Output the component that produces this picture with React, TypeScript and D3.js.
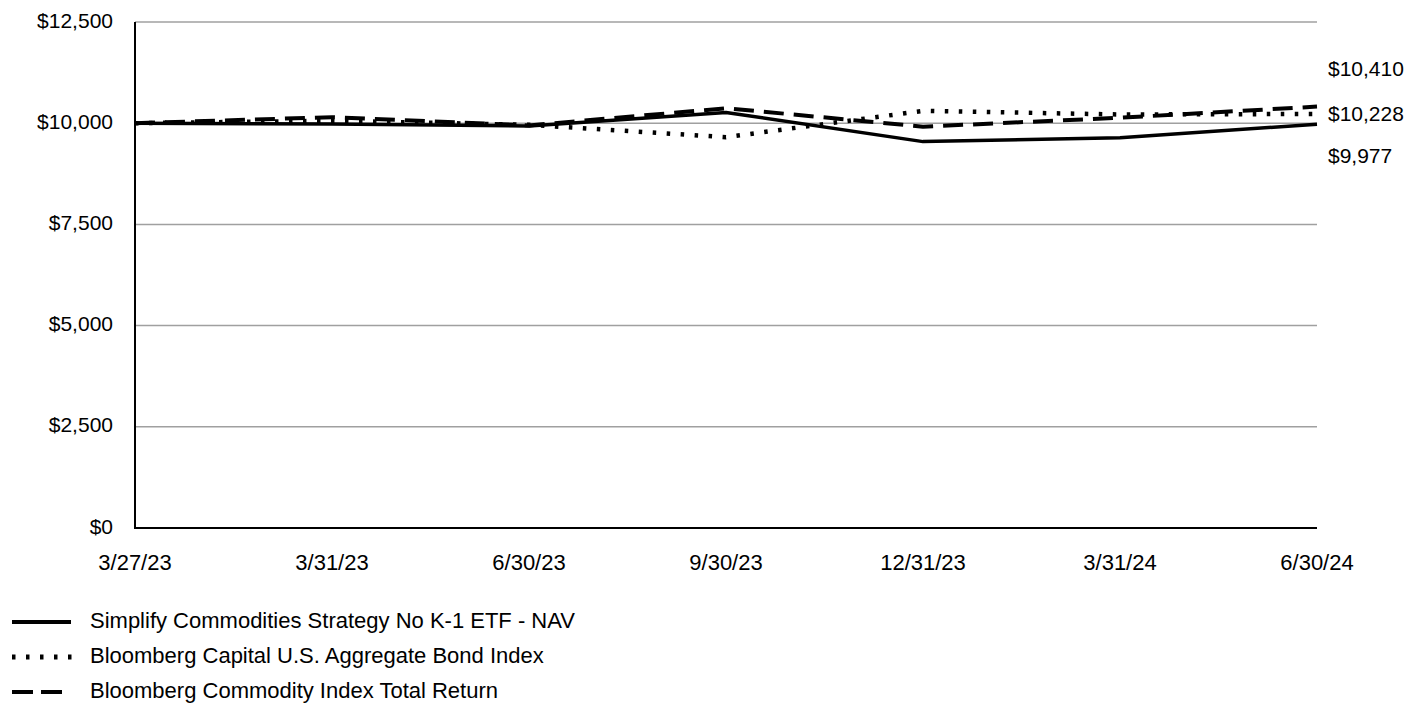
import React from "react";
import * as d3 from "d3";

const dates = ["3/27/23", "3/31/23", "6/30/23", "9/30/23", "12/31/23", "3/31/24", "6/30/24"];
const navValues = [10000, 9980, 9930, 10265, 9545, 9640, 9977];
const bondValues = [10000, 10060, 9960, 9655, 10305, 10215, 10228];
const commodityValues = [10000, 10150, 9945, 10370, 9915, 10135, 10410];
const yTicks = [0, 2500, 5000, 7500, 10000, 12500];
const seriesNames = [
  "Simplify Commodities Strategy No K-1 ETF - NAV",
  "Bloomberg Capital U.S. Aggregate Bond Index",
  "Bloomberg Commodity Index Total Return",
];

const W = 1409;
const H = 707;
const margin = { left: 135, right: 1317, top: 22, bottom: 528 };
const FONT = "'Liberation Sans', Arial, sans-serif";

const styles = [
  { width: 3.5, dash: "none" },
  { width: 4.5, dash: "3.5,10.5" },
  { width: 4, dash: "20,10" },
];

export default function App() {
  const x = d3.scalePoint<string>().domain(dates).range([margin.left, margin.right]);
  const y = d3.scaleLinear().domain([0, 12500]).range([margin.bottom, margin.top]);
  const fmt = (v: number) => "$" + d3.format(",")(v);
  const series = [navValues, bondValues, commodityValues];
  const line = d3
    .line<number>()
    .x((_, i) => x(dates[i]) as number)
    .y((d) => y(d));

  // end labels: sorted by value, spread apart
  const ends = series.map((s, i) => ({ i, v: s[s.length - 1] }));
  const sorted = [...ends].sort((a, b) => b.v - a.v);
  const midY = y(sorted[1].v) + 1;
  const gap = 44;
  const labelY = sorted.map((e, k) => ({ ...e, ly: midY + (k - 1) * gap - (k === 0 ? 1 : 0) - (k === 2 ? 2 : 0) }));

  const legendY = [622, 657, 692];

  return (
    <div style={{ position: "fixed", left: 0, top: 0 }}>
      <svg width={W} height={H} style={{ display: "block", background: "#fff" }}>
        {yTicks.map((t) => (
          <g key={t}>
            {t > 0 && (
              <line x1={margin.left} x2={margin.right} y1={y(t)} y2={y(t)} stroke="#a0a0a0" strokeWidth={1.5} />
            )}
            <text
              x={113}
              y={y(t)}
              textAnchor="end"
              dominantBaseline="middle"
              fontFamily={FONT}
              fontSize={21}
              fill="#000"
            >
              {fmt(t)}
            </text>
          </g>
        ))}
        <line x1={margin.left} x2={margin.left} y1={margin.top} y2={margin.bottom + 1} stroke="#000" strokeWidth={2} />
        <line x1={margin.left - 1} x2={margin.right} y1={margin.bottom} y2={margin.bottom} stroke="#000" strokeWidth={2} />
        {dates.map((d) => (
          <text
            key={d}
            x={x(d)}
            y={564}
            textAnchor="middle"
            dominantBaseline="middle"
            fontFamily={FONT}
            fontSize={22}
            fill="#000"
          >
            {d}
          </text>
        ))}
        {series.map((s, i) => (
          <path
            key={i}
            d={line(s) as string}
            fill="none"
            stroke="#000"
            strokeWidth={styles[i].width}
            strokeDasharray={styles[i].dash}
            strokeLinejoin="round"
          />
        ))}
        {labelY.map((e) => (
          <text
            key={e.i}
            x={1328}
            y={e.ly}
            dominantBaseline="middle"
            fontFamily={FONT}
            fontSize={21}
            fill="#000"
          >
            {fmt(e.v)}
          </text>
        ))}
        {seriesNames.map((n, i) => (
          <g key={n}>
            {i === 0 && <line x1={12} x2={71} y1={legendY[i]} y2={legendY[i]} stroke="#000" strokeWidth={4} />}
            {i === 1 && (
              <line x1={12} x2={72} y1={legendY[i]} y2={legendY[i]} stroke="#000" strokeWidth={5} strokeDasharray="3.5,10.5" />
            )}
            {i === 2 && (
              <line x1={12} x2={62} y1={legendY[i]} y2={legendY[i]} stroke="#000" strokeWidth={4} strokeDasharray="21,8" />
            )}
            <text x={90} y={legendY[i]} dominantBaseline="middle" fontFamily={FONT} fontSize={22} fill="#000">
              {n}
            </text>
          </g>
        ))}
      </svg>
    </div>
  );
}
